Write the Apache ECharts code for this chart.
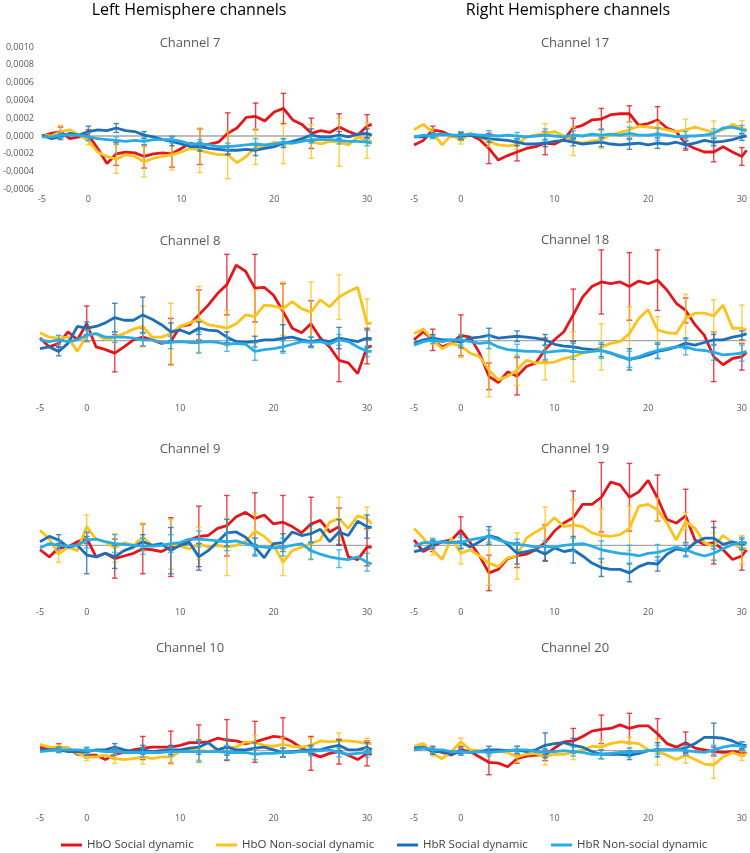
<!DOCTYPE html>
<html>
<head>
<meta charset="utf-8">
<script src="https://cdn.jsdelivr.net/npm/echarts@6/dist/echarts.min.js"></script>
<style>
html,body{margin:0;padding:0;background:#fff;}
#chart{width:750px;height:853px;}
</style>
</head>
<body>
<div id="chart"></div>
<script>
// Values are in units of 1e-4 (axis labels show the real value)
const xs = [-5,-4,-3,-2,-1,0,1,2,3,4,5,6,7,8,9,10,11,12,13,14,15,16,17,18,19,20,21,22,23,24,25,26,27,28,29,30,30.5];
const errX = [-3,0,3,6,9,12,15,18,21,24,27,30];
const xTickLabels = [-5,0,10,20,30];
const seriesNames = ['HbO Social dynamic','HbO Non-social dynamic','HbR Social dynamic','HbR Non-social dynamic'];

// Channel 7
const ch7_hboS = [0.0,0.3,0.5,-0.3,-0.1, 0.1,-1.4,-3.1,-2.0,-1.8,-1.9,-2.3,-2.0,-1.9,-2.0, -1.4,-0.8,-1.2,-0.9,-0.7,0.3,0.9,2.1,2.2,1.7, 2.7,3.1,1.8,1.3,0.3,0.6,0.4,1.0,0.5,0.1, 1.1,1.3];
const ch7_hboN = [0.1,0.0,0.5,0.7,0.1, -0.5,-1.8,-2.3,-2.6,-2.1,-2.3,-2.9,-2.5,-2.3,-2.1, -1.8,-1.4,-1.6,-1.9,-2.1,-2.1,-3.0,-2.3,-1.2,-1.2, -0.7,-0.9,-0.8,-0.5,-0.6,-0.9,-0.6,-0.7,-1.0,-0.1, -0.5,-0.6];
const ch7_hbrS = [0.1,-0.3,-0.1,0.3,0.1, 0.5,0.7,0.6,0.9,0.6,0.5,0.1,-0.1,-0.4,-0.6, -0.9,-1.2,-1.2,-1.4,-1.5,-1.6,-1.6,-1.5,-1.6,-1.4, -1.2,-0.8,-0.6,-0.3,0.1,-0.1,-0.1,0.1,-0.1,0.2, 0.3,0.1];
const ch7_hbrN = [-0.1,-0.1,0.1,0.1,0.1, -0.1,-0.3,-0.4,-0.5,-0.6,-0.5,-0.6,-0.4,-0.4,-0.4, -0.6,-0.9,-0.9,-1.0,-1.2,-1.2,-1.1,-1.0,-0.9,-1.0, -0.9,-0.7,-0.8,-0.6,-0.4,-0.4,-0.4,-0.5,-0.6,-0.6, -0.7,-0.8];
const ch7_err_hboS = [0.5,0.6,1.3,1.3,1.5,2.0,2.3,1.5,1.7,1.7,1.5,1.3];
const ch7_err_hboN = [0.7,0.5,1.6,1.7,1.7,2.5,2.7,2.0,2.2,1.9,2.7,2.0];
const ch7_err_hbrS = [0.3,0.6,0.5,0.4,0.5,0.5,0.5,0.6,0.5,0.7,0.4,0.5];
const ch7_err_hbrN = [0.3,0.4,0.4,0.4,0.4,0.5,0.4,0.6,0.4,0.4,0.4,0.4];

// Channel 17
const ch17_hboS = [-1.0,-0.5,0.7,0.5,0.0, -0.1,0.1,-0.4,-1.4,-2.7,-2.2,-1.8,-1.4,-1.2,-0.8, -0.9,-0.4,0.9,1.2,1.8,1.9,2.4,2.5,2.5,1.2, 1.4,1.8,0.9,0.5,-0.9,-1.4,-1.8,-1.8,-1.2,-1.8, -2.3,-1.6];
const ch17_hboN = [0.7,1.3,0.4,-1.0,0.1, -0.5,0.3,-0.1,-0.6,-1.0,-1.1,-1.0,-0.1,0.1,0.3, 0.5,0.0,-0.6,-0.8,-0.6,-0.4,0.1,0.4,0.7,1.1, 1.0,0.9,0.7,0.5,0.7,1.0,0.7,0.4,0.7,1.3, 0.9,0.7];
const ch17_hbrS = [-0.1,-0.1,0.1,0.2,0.1, 0.0,0.1,-0.1,-0.3,-0.4,-0.5,-0.7,-0.9,-0.9,-0.8, -0.6,-0.5,-0.7,-0.9,-0.8,-0.7,-0.9,-1.0,-0.9,-0.8, -1.0,-0.8,-0.9,-0.7,-1.0,-0.8,-0.5,-0.7,-0.6,-0.4, -0.1,0.0];
const ch17_hbrN = [-0.1,0.1,0.0,0.2,0.1, 0.1,0.2,0.1,0.1,0.0,0.1,0.0,-0.1,0.0,0.1, 0.0,-0.1,0.1,0.0,0.2,0.1,0.2,0.1,0.3,0.1, 0.1,0.2,0.1,-0.1,0.0,0.0,0.1,0.3,0.9,1.0, 0.7,0.6];
const ch17_err_hboS = [0.4,0.4,1.7,1.0,1.3,1.1,1.2,0.9,1.5,0.7,1.1,1.0];
const ch17_err_hboN = [0.4,0.4,0.6,0.5,1.1,1.6,1.0,0.9,0.7,1.2,1.3,0.8];
const ch17_err_hbrS = [0.3,0.4,0.4,0.4,0.4,0.4,0.5,0.6,0.6,0.4,0.4,0.4];
const ch17_err_hbrN = [0.3,0.4,0.5,0.4,0.7,0.5,0.7,0.7,0.7,0.5,0.5,0.5];

// Channel 8
const ch8_hboS = [0.3,-0.7,-0.3,1.0,0.1, 1.9,-0.7,-1.0,-1.4,-0.7,0.1,0.4,0.1,-0.3,-0.1, 1.6,1.8,2.9,4.0,5.3,6.3,8.5,7.8,5.9,6.0, 5.1,3.3,1.4,0.9,1.9,0.3,-0.7,-2.2,-2.5,-3.7, -0.7,-0.6];
const ch8_hboN = [0.9,0.4,0.3,0.4,-1.2, 0.6,0.8,0.1,0.4,0.8,1.3,1.6,0.4,0.4,0.8, 1.6,2.0,2.4,1.8,1.6,1.4,1.9,2.9,2.7,4.0, 3.9,3.6,4.4,3.6,3.2,4.6,3.8,4.9,5.5,6.0, 1.9,2.0];
const ch8_hbrS = [-0.9,-0.7,-1.2,-0.3,1.6, 1.4,1.6,2.0,2.6,2.3,2.3,2.9,2.4,1.8,1.0, 1.2,0.8,1.4,1.2,1.1,0.4,-0.1,-0.2,-0.1,0.1, 0.1,0.3,0.4,0.1,-0.1,0.1,-0.1,0.3,0.1,-0.1, 0.3,0.2];
const ch8_hbrN = [0.1,-0.1,0.1,-0.1,0.1, 0.6,0.8,0.4,0.4,0.4,0.3,0.1,0.1,-0.2,-0.2, -0.1,-0.2,-0.2,-0.1,-0.2,-0.4,-0.3,-0.4,-1.2,-1.0, -0.9,-0.7,-0.4,-0.1,-0.2,-0.1,-0.4,0.1,-0.1,-0.7, -1.2,-1.2];
const ch8_err_hboS = [0.4,2.0,2.1,1.0,2.6,2.8,3.4,3.8,3.1,2.6,2.4,1.9];
const ch8_err_hboN = [0.3,0.6,0.6,2.3,3.4,3.7,2.0,3.0,3.0,3.4,2.5,2.8];
const ch8_err_hbrS = [0.5,0.7,1.6,2.0,1.0,0.7,0.6,0.6,1.5,0.5,1.2,1.1];
const ch8_err_hbrN = [0.5,0.6,0.6,0.7,0.7,1.2,0.8,1.0,0.7,0.6,0.6,0.6];

// Channel 18
const ch18_hboS = [0.1,1.0,0.1,-0.7,-0.3, 0.6,0.4,-1.4,-4.0,-4.7,-3.5,-4.0,-2.9,-2.5,-1.0, 0.1,1.0,2.9,4.9,6.1,6.6,6.4,6.6,6.1,6.7, 6.4,6.8,5.7,4.2,3.4,1.8,0.6,-1.8,-2.7,-2.0, -1.8,-1.3];
const ch18_hboN = [0.8,1.3,0.1,-0.9,-0.3, -0.6,-1.4,-1.8,-3.3,-4.4,-4.0,-3.3,-2.2,-2.5,-2.5, -2.4,-2.0,-1.8,-1.4,-1.2,-0.7,-0.3,-0.1,0.8,2.5, 3.5,1.2,0.9,0.8,2.5,3.1,3.1,2.8,4.0,1.4, 1.4,1.2];
const ch18_hbrS = [-0.3,0.1,0.3,0.1,0.1, -0.2,0.3,0.4,0.6,0.3,0.4,0.5,0.4,0.3,0.1, -0.4,-0.6,-0.7,-0.9,-1.0,-1.1,-1.4,-1.8,-2.1,-1.9, -1.6,-1.2,-1.0,-0.7,-0.3,-0.5,-0.2,0.1,0.1,0.4, 0.6,0.8];
const ch18_hbrN = [-0.5,-0.1,0.1,-0.1,0.1, 0.1,-0.1,-0.3,-0.2,-0.7,-1.0,-1.1,-1.2,-1.2,-1.3, -1.2,-1.1,-1.2,-1.3,-1.2,-1.1,-1.4,-1.7,-2.1,-1.8, -1.4,-1.1,-0.9,-0.7,-0.7,-1.0,-1.1,-1.3,-1.6,-1.5, -1.4,-1.2];
const ch18_err_hboS = [1.2,2.3,1.5,2.1,1.3,2.9,3.6,3.8,3.4,1.4,2.8,1.5];
const ch18_err_hboN = [0.5,1.3,3.0,1.7,1.9,2.8,2.6,3.0,1.5,2.7,1.8,2.6];
const ch18_err_hbrS = [0.4,0.6,0.8,0.6,0.6,0.6,0.7,1.2,0.8,0.6,0.6,0.5];
const ch18_err_hbrN = [0.4,0.6,0.7,0.7,0.8,0.9,0.9,0.9,0.9,0.9,0.9,0.9];

// Channel 9
const ch9_hboS = [-0.5,-1.3,-0.3,-0.2,0.4, 0.8,-1.3,-0.9,-1.5,-1.2,-0.9,-0.4,-0.5,-0.7,-0.2, 0.0,0.6,1.0,1.1,1.9,2.2,3.2,3.7,3.0,3.4, 2.4,2.6,2.1,1.4,2.4,2.8,1.5,2.1,-1.3,-1.6, -0.2,-0.2];
const ch9_hboN = [1.7,0.7,-1.0,-0.2,-0.6, 2.1,0.7,0.4,-0.3,0.3,0.0,0.9,0.0,0.0,0.1, -0.1,-0.4,0.2,-0.2,0.0,-0.2,0.0,0.4,1.6,1.0, 0.0,-1.9,-0.6,-0.2,0.2,0.6,2.6,3.0,1.9,3.3, 3.0,2.4];
const ch9_hbrS = [0.4,1.0,0.6,-0.2,0.0, -1.1,-1.3,-0.9,-1.3,-0.6,-0.2,0.4,0.0,0.2,-0.6, 0.0,0.3,-1.3,-0.6,0.4,1.4,1.5,0.9,-0.2,-1.4, 0.2,0.3,1.5,1.1,1.3,1.8,0.4,1.5,1.1,2.7, 2.1,2.0];
const ch9_hbrN = [-0.3,0.2,0.0,-0.1,0.0, 0.6,0.7,0.4,0.2,0.1,0.0,-0.1,-0.1,0.0,0.2, 0.3,0.7,0.7,0.6,0.5,0.4,0.5,0.2,-0.1,-0.2, -0.3,-0.2,0.0,0.2,-0.6,-1.0,-1.3,-1.5,-1.6,-1.3, -1.9,-2.1];
const ch9_err_hboS = [0.5,0.6,2.2,2.8,3.3,3.4,3.4,2.9,3.0,3.0,2.1,2.1];
const ch9_err_hboN = [0.9,1.3,1.6,1.6,2.8,1.8,3.2,2.0,1.5,1.7,2.4,1.3];
const ch9_err_hbrS = [0.6,2.1,1.3,0.8,2.6,1.5,1.5,1.0,1.0,1.0,1.4,1.3];
const ch9_err_hbrN = [0.5,0.9,1.0,0.9,1.0,0.9,1.0,0.9,1.0,1.0,1.0,1.0];

// Channel 19
const ch19_hboS = [0.6,-0.7,-0.1,0.4,0.6, 1.7,0.3,-1.2,-3.1,-2.7,-1.5,-1.2,-1.0,-0.5,0.3, 1.6,2.5,3.1,4.6,4.6,5.4,7.1,6.8,5.4,6.0, 7.3,5.3,2.9,2.5,3.3,0.6,0.1,0.3,-0.5,-1.6, -1.2,-0.5];
const ch19_hboN = [1.9,0.8,-0.5,-1.6,0.8, -0.9,-0.5,-1.2,-2.0,-2.4,-1.4,-1.2,0.8,1.5,2.1, 3.1,2.1,2.3,2.1,1.4,1.1,1.0,1.2,1.9,4.4, 4.6,4.0,2.5,0.6,2.7,1.9,0.3,-0.1,1.1,0.3, -0.5,-0.3];
const ch19_hbrS = [-0.7,-0.5,0.1,0.4,0.3, 0.4,-0.2,0.4,1.1,0.8,0.1,-0.9,-0.7,-0.5,-1.0, -0.3,-0.7,-0.5,-1.2,-2.0,-2.5,-2.7,-2.7,-3.1,-2.4, -2.0,-2.1,-1.0,-0.4,-0.6,0.3,0.8,0.8,0.1,0.4, 0.1,0.3];
const ch19_hbrN = [-0.1,0.3,0.3,0.4,0.3, 0.3,0.6,0.8,1.0,0.6,0.3,0.1,0.0,-0.2,-0.1, -0.2,0.0,0.1,0.2,-0.1,-0.5,-0.7,-0.9,-1.0,-1.2, -0.9,-0.8,-0.5,-0.2,-0.5,-0.9,-1.2,-0.9,-0.4,0.1, 0.3,0.3];
const ch19_err_hboS = [0.6,1.5,2.0,1.3,2.0,3.0,3.9,3.8,2.6,3.0,2.4,1.6];
const ch19_err_hboN = [0.6,1.2,2.5,2.6,2.2,2.8,3.0,2.5,1.3,1.0,1.5,1.6];
const ch19_err_hbrS = [0.5,0.8,1.0,1.2,0.8,1.5,1.0,1.0,0.8,0.6,1.2,0.6];
const ch19_err_hbrN = [0.5,0.6,0.7,0.6,0.6,0.7,1.0,1.0,0.9,0.8,0.8,0.6];

// Channel 10
const ch10_hboS = [0.4,0.1,0.4,0.3,-0.4, -0.5,-0.5,-1.0,-0.4,-0.2,0.1,0.3,0.4,0.4,0.4, 0.6,0.9,0.9,1.0,1.4,1.2,1.1,0.8,1.0,1.3, 1.6,1.5,1.0,0.3,-0.3,-0.7,-0.3,-0.1,-0.5,-1.0, -0.3,-0.4];
const ch10_hboN = [0.7,0.4,0.4,0.3,-0.3, -0.7,-0.7,-0.5,-0.9,-1.0,-0.9,-0.7,-0.9,-0.7,-0.7, -0.1,0.1,0.1,-0.1,0.1,0.4,0.4,1.0,0.9,0.6, 0.5,0.7,0.5,0.4,0.6,1.1,1.0,1.1,1.1,1.0, 0.8,0.8];
const ch10_hbrS = [0.1,0.1,0.1,-0.1,-0.1, -0.1,0.1,0.1,0.4,0.1,-0.1,0.1,-0.1,0.0,0.1, 0.1,0.3,0.4,0.9,0.1,0.4,0.1,0.1,0.3,0.4, 0.1,-0.2,-0.1,0.0,0.1,0.1,0.4,0.6,0.1,0.1, 0.4,0.1];
const ch10_hbrN = [-0.1,0.0,0.1,0.1,0.1, 0.0,0.0,-0.1,-0.1,-0.2,-0.2,-0.2,-0.2,-0.2,-0.1, -0.1,-0.1,-0.1,-0.1,-0.1,-0.2,-0.2,-0.2,-0.4,-0.3, -0.3,-0.2,-0.2,-0.1,-0.1,0.0,0.1,-0.2,-0.4,-0.3, -0.2,-0.2];
const ch10_err_hboS = [0.4,0.3,0.5,1.3,1.8,2.0,2.3,2.3,2.2,1.9,1.4,1.4];
const ch10_err_hboN = [0.3,0.4,0.5,0.8,0.8,1.2,0.9,0.8,0.8,0.8,0.9,0.6];
const ch10_err_hbrS = [0.3,0.4,0.4,0.5,0.5,0.8,0.9,0.6,0.5,0.5,0.6,0.5];
const ch10_err_hbrN = [0.3,0.4,0.4,0.5,0.5,1.2,0.8,0.6,0.5,0.5,0.5,0.5];

// Channel 20
const ch20_hboS = [0.1,0.4,0.1,-0.2,-0.5, 0.1,-0.1,-0.7,-1.3,-1.4,-1.8,-0.9,-0.6,-0.5,-0.5, 0.3,1.0,1.1,1.6,2.2,2.4,2.5,2.9,2.5,2.8, 2.8,1.9,0.8,0.4,0.9,0.3,0.1,-0.1,-0.2,-0.1, -0.2,-0.3];
const ch20_hboN = [0.5,0.8,-0.3,-0.9,-0.1, 1.0,0.1,0.0,-0.1,-0.1,-0.2,-0.7,-0.4,-0.3,-0.7, -0.4,-0.4,-0.2,0.1,0.5,0.4,0.8,1.0,0.9,0.8, 0.1,-0.1,-0.5,-1.0,-0.5,-1.0,-1.5,-1.6,-0.7,-0.2, -0.6,-0.3];
const ch20_hbrS = [0.3,0.4,-0.1,-0.1,-0.4, -0.1,-0.2,-0.1,0.1,0.1,0.0,0.1,-0.1,0.1,0.6, 0.8,0.9,0.6,0.4,-0.1,-0.4,-0.4,-0.4,-0.5,-0.3, 0.0,0.1,0.1,0.1,0.3,0.8,1.5,1.5,1.4,1.1, 0.6,0.6];
const ch20_hbrN = [0.1,0.3,0.1,0.1,-0.1, -0.1,-0.2,-0.1,-0.2,-0.1,0.0,0.1,0.1,-0.1,-0.2, -0.1,0.0,-0.1,-0.2,-0.4,-0.4,-0.3,-0.2,-0.2,-0.1, 0.0,0.1,0.1,0.1,0.0,-0.1,-0.2,0.1,0.4,0.6, 0.5,0.4];
const ch20_err_hboS = [0.4,0.4,1.4,0.5,0.6,1.4,1.6,1.7,1.7,1.2,0.5,0.4];
const ch20_err_hboN = [0.3,0.4,0.3,0.6,0.9,0.8,0.8,0.6,1.5,0.9,1.5,0.5];
const ch20_err_hbrS = [0.3,0.4,0.4,0.4,1.4,0.8,0.5,0.5,0.8,0.5,1.6,0.4];
const ch20_err_hbrN = [0.3,0.4,0.4,0.4,0.4,0.5,0.5,0.5,0.5,0.5,0.5,0.5];

// ---------- layout / styling ----------
const COLORS = ['#e3161c','#fbc31b','#1f6fb6','#28ace6'];
const FONT = '"Open Sans", "Noto Sans", sans-serif';
const panels = [
  {title:'Channel 7',  col:0, row:0, titleY:43,  lines:[ch7_hboS,ch7_hboN,ch7_hbrS,ch7_hbrN],     errs:[ch7_err_hboS,ch7_err_hboN,ch7_err_hbrS,ch7_err_hbrN]},
  {title:'Channel 17', col:1, row:0, titleY:43,  lines:[ch17_hboS,ch17_hboN,ch17_hbrS,ch17_hbrN], errs:[ch17_err_hboS,ch17_err_hboN,ch17_err_hbrS,ch17_err_hbrN]},
  {title:'Channel 8',  col:0, row:1, titleY:241, lines:[ch8_hboS,ch8_hboN,ch8_hbrS,ch8_hbrN],     errs:[ch8_err_hboS,ch8_err_hboN,ch8_err_hbrS,ch8_err_hbrN]},
  {title:'Channel 18', col:1, row:1, titleY:240, lines:[ch18_hboS,ch18_hboN,ch18_hbrS,ch18_hbrN], errs:[ch18_err_hboS,ch18_err_hboN,ch18_err_hbrS,ch18_err_hbrN]},
  {title:'Channel 9',  col:0, row:2, titleY:449, lines:[ch9_hboS,ch9_hboN,ch9_hbrS,ch9_hbrN],     errs:[ch9_err_hboS,ch9_err_hboN,ch9_err_hbrS,ch9_err_hbrN]},
  {title:'Channel 19', col:1, row:2, titleY:449, lines:[ch19_hboS,ch19_hboN,ch19_hbrS,ch19_hbrN], errs:[ch19_err_hboS,ch19_err_hboN,ch19_err_hbrS,ch19_err_hbrN]},
  {title:'Channel 10', col:0, row:3, titleY:648, lines:[ch10_hboS,ch10_hboN,ch10_hbrS,ch10_hbrN], errs:[ch10_err_hboS,ch10_err_hboN,ch10_err_hbrS,ch10_err_hbrN]},
  {title:'Channel 20', col:1, row:3, titleY:648, lines:[ch20_hboS,ch20_hboN,ch20_hbrS,ch20_hbrN], errs:[ch20_err_hboS,ch20_err_hboN,ch20_err_hbrS,ch20_err_hbrN]}
];
const colLeft = [40, 414], colWidth = [331.7, 333.7], colTitleX = [190, 575];
const rowZero = [136, 340.7, 545.3, 750.7];
const rowLabelMargin = [6, 9.5, 9, 9.5];
const Y_MIN = -6, Y_MAX = 10, PX_PER_UNIT = 8.9;
const X_MIN = -5, X_MAX = 30.5;

function errRender(color){
  return function(params, api){
    const x = api.value(0);
    const top = api.coord([x, api.value(2)]);
    const bot = api.coord([x, api.value(1)]);
    const w = 2.8;
    const st = {stroke: color, lineWidth: 1.4, opacity: 0.8};
    return {type:'group', children:[
      {type:'line', shape:{x1:top[0], y1:top[1], x2:bot[0], y2:bot[1]}, style:st},
      {type:'line', shape:{x1:top[0]-w, y1:top[1], x2:top[0]+w, y2:top[1]}, style:st},
      {type:'line', shape:{x1:bot[0]-w, y1:bot[1], x2:bot[0]+w, y2:bot[1]}, style:st}
    ]};
  };
}

const grids = [], xAxes = [], yAxes = [], series = [], graphics = [];
panels.forEach((p, i) => {
  const z0 = rowZero[p.row];
  grids.push({left: colLeft[p.col], width: colWidth[p.col], top: z0 - Y_MAX*PX_PER_UNIT, height: (Y_MAX - Y_MIN)*PX_PER_UNIT});
  xAxes.push({type:'value', gridIndex:i, min:X_MIN, max:X_MAX,
    axisLine:{show:false}, axisTick:{show:false}, splitLine:{show:false},
    axisLabel:{customValues: xTickLabels, margin: rowLabelMargin[p.row], fontSize:9, color:'#595959', fontFamily:FONT}});
  yAxes.push({type:'value', gridIndex:i, min:Y_MIN, max:Y_MAX, interval:2,
    axisLine:{show:false}, axisTick:{show:false}, splitLine:{show:false},
    axisLabel:{show: i === 0, margin: 8, fontSize:9, color:'#595959', fontFamily:FONT,
      formatter: v => (v/10000).toFixed(4).replace('.', ',')}});
  // zero (horizontal axis) line
  series.push({type:'line', xAxisIndex:i, yAxisIndex:i, silent:true, symbol:'none', z:1,
    data:[[X_MIN,0],[X_MAX,0]], lineStyle:{color:'#a6a6a6', width:1.3}, tooltip:{show:false}});
  p.lines.forEach((vals, s) => {
    series.push({type:'line', name: seriesNames[s], xAxisIndex:i, yAxisIndex:i,
      data: xs.map((x, k) => [x, vals[k]]), showSymbol:false, symbol:'none', smooth:false,
      lineStyle:{width:2.8, color:COLORS[s]}, itemStyle:{color:COLORS[s]}, z: 2 + s});
    series.push({type:'custom', name: seriesNames[s] + ' error', xAxisIndex:i, yAxisIndex:i,
      renderItem: errRender(COLORS[s]), encode:{x:0, y:[1,2]}, z: 2 + s,
      data: errX.map((x, k) => { const c = vals[xs.indexOf(x)]; return [x, c - p.errs[s][k], c + p.errs[s][k]]; })});
  });
  graphics.push({type:'text', x: colTitleX[p.col], y: p.titleY,
    style:{text:p.title, fill:'#595959', font:'13px ' + FONT, align:'center', verticalAlign:'middle'}});
});
graphics.push({type:'text', x:189, y:10, style:{text:'Left Hemisphere channels', fill:'#000', font:'16px ' + FONT, align:'center', verticalAlign:'middle'}});
graphics.push({type:'text', x:568, y:10, style:{text:'Right Hemisphere channels', fill:'#000', font:'16px ' + FONT, align:'center', verticalAlign:'middle'}});

const legendLefts = [61, 216, 397, 551];
const legends = seriesNames.map((n, s) => ({
  data:[n], left: legendLefts[s], top: 839, padding: 0, icon:'rect', itemWidth:21, itemHeight:3, itemGap:0,
  selectedMode:false, textStyle:{fontSize:11.5, color:'#404040', fontFamily:FONT}
}));

const chart = echarts.init(document.getElementById('chart'), null, {renderer:'canvas'});
chart.setOption({
  animation:false,
  backgroundColor:'#ffffff',
  textStyle:{fontFamily:FONT},
  grid: grids, xAxis: xAxes, yAxis: yAxes, series: series,
  legend: legends, graphic: graphics
});
</script>
</body>
</html>
